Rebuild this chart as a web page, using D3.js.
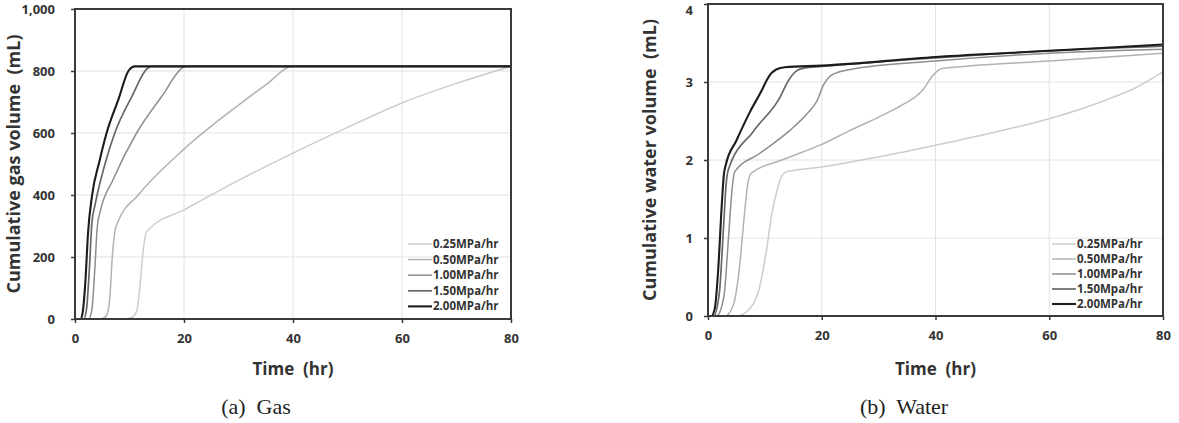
<!DOCTYPE html>
<html>
<head>
<meta charset="utf-8">
<script src="https://cdn.jsdelivr.net/npm/d3@7"></script>
<style>
  body { margin: 0; background: #fff; }
  svg { display: block; }
  text { white-space: pre; }
  .tick text { font-family: "Open Sans", sans-serif; font-weight: 700; font-size: 13px; fill: #333; }
  .xtitle { font-family: "Open Sans", sans-serif; font-weight: 700; font-size: 17px; fill: #333; }
  .ytitle { font-family: "Open Sans", sans-serif; font-weight: 700; font-size: 18px; fill: #333; }
  .legend text { font-family: "Open Sans", sans-serif; font-weight: 700; font-size: 11.5px; fill: #333; }
  .caption { font-family: "Liberation Serif", "Times New Roman", serif; font-size: 22px; fill: #222; }
</style>
</head>
<body>
<script>
// Canvas size
var width = 1179,
    height = 423;

// Series labels (as printed in the legend)
var seriesNames = ["0.25MPa/hr", "0.50MPa/hr", "1.00MPa/hr", "1.50Mpa/hr", "2.00MPa/hr"];
var seriesColors = ["#cdcdcd", "#b2b2b2", "#8e8e8e", "#676767", "#1c1c1c"];
var seriesWidths = [1.5, 1.5, 1.5, 1.7, 2.1];

// Ticks
var timeTicks = [0, 20, 40, 60, 80];
var gasTicks = [0, 200, 400, 600, 800, 1000];
var waterTicks = [0, 1, 2, 3, 4];

// Gas (mL) vs time (hr)
var gas025 = [[0,0],[9,0],[10.5,6],[11.3,25],[11.9,100],[12.5,220],[13.1,280],[13.6,290],[20,352],[30,447],[40,535],[50,618],[60,697],[70,760],[80,815]];
var gas050 = [[0,0],[4.8,0],[5.8,12],[6.4,70],[6.8,190],[7.3,280],[7.8,310],[11.6,400],[20,548],[30,690],[35,755],[40,815],[80,815]];
var gas100 = [[0,0],[2.5,0],[3.1,30],[3.6,150],[4.1,300],[4.6,345],[7,450],[11.3,600],[16,720],[19.9,812],[20.5,815],[80,815]];
var gas150 = [[0,0],[1.6,0],[2.1,30],[2.6,150],[3.1,310],[3.7,370],[5.5,500],[7.3,600],[10.5,720],[13.1,805],[14,815],[80,815]];
var gas200 = [[0,0],[1.0,0],[1.4,20],[1.9,120],[2.4,280],[3.1,395],[4.5,510],[5.8,600],[8,710],[9.8,800],[11,815],[80,815]];

// Water (mL) vs time (hr)
var water025 = [[0,0],[5,0],[7.4,0.1],[9,0.35],[10.3,0.85],[11.2,1.3],[12.1,1.6],[13,1.8],[13.8,1.85],[20,1.91],[30,2.04],[40,2.19],[50,2.35],[60,2.53],[70,2.77],[75,2.92],[80,3.13]];
var water050 = [[0,0],[3,0],[4.5,0.15],[5.5,0.6],[6.4,1.3],[7,1.7],[7.6,1.83],[13,2.0],[20,2.2],[25,2.38],[30,2.55],[34,2.7],[37.8,2.9],[39.5,3.08],[41,3.17],[45,3.2],[60,3.27],[80,3.37]];
var water100 = [[0,0],[1.5,0],[2.8,0.25],[3.6,1.0],[4.2,1.6],[4.7,1.85],[9,2.08],[14.4,2.38],[17.5,2.6],[19.1,2.75],[20.3,2.96],[22,3.1],[25,3.16],[40,3.27],[60,3.37],[80,3.42]];
var water150 = [[0,0],[1,0],[2,0.3],[2.7,1.1],[3.2,1.7],[3.6,1.88],[8,2.37],[12.7,2.81],[14,3.0],[15.5,3.14],[17,3.18],[20,3.2],[40,3.31],[60,3.4],[80,3.46]];
var water200 = [[0,0],[0.6,0],[1.2,0.1],[1.8,0.6],[2.4,1.4],[2.8,1.82],[3.1,1.93],[5,2.25],[7.4,2.62],[9.5,2.9],[10.3,3.02],[11,3.1],[12,3.16],[13.5,3.19],[20,3.21],[40,3.32],[60,3.4],[80,3.48]];

var svg = d3.select("body").append("svg")
  .attr("width", width)
  .attr("height", height);

function drawPanel(opt) {
  var x = d3.scaleLinear().domain([0, 80]).range([opt.left, opt.right]);
  var y = d3.scaleLinear().domain([0, opt.yMax]).range([opt.bottom, opt.top]);
  var g = svg.append("g");

  // Gridlines
  g.selectAll(".hgrid").data(opt.yTicks.slice(1, -1)).enter().append("line")
    .attr("x1", opt.left).attr("x2", opt.right)
    .attr("y1", function(d){ return y(d); }).attr("y2", function(d){ return y(d); })
    .attr("stroke", "#e2e2e2").attr("stroke-width", 1);
  g.selectAll(".vgrid").data(timeTicks.slice(1, -1)).enter().append("line")
    .attr("y1", opt.top).attr("y2", opt.bottom)
    .attr("x1", function(d){ return x(d); }).attr("x2", function(d){ return x(d); })
    .attr("stroke", "#e2e2e2").attr("stroke-width", 1);

  // Lines
  var line = d3.line()
    .x(function(d){ return x(d[0]); })
    .y(function(d){ return y(d[1]); })
    .curve(d3.curveMonotoneX);
  opt.series.forEach(function(s, i) {
    g.append("path")
      .attr("d", line(s))
      .attr("fill", "none")
      .attr("stroke", seriesColors[i])
      .attr("stroke-width", seriesWidths[i])
      .attr("stroke-linejoin", "round");
  });

  // Frame
  g.append("rect")
    .attr("x", opt.left).attr("y", opt.top)
    .attr("width", opt.right - opt.left).attr("height", opt.bottom - opt.top)
    .attr("fill", "none").attr("stroke", "#3a3a3a").attr("stroke-width", 2);

  // Axes
  var xAxis = d3.axisBottom(x).tickValues(timeTicks).tickSize(4).tickPadding(11);
  var yAxis = d3.axisLeft(y).tickValues(opt.yTicks).tickSize(4).tickPadding(opt.yPad)
    .tickFormat(opt.yFormat);
  var gx = g.append("g").attr("transform", "translate(0," + opt.bottom + ")").call(xAxis);
  var gy = g.append("g").attr("transform", "translate(" + opt.left + ",0)").call(yAxis);
  [gx, gy].forEach(function(a) {
    a.select(".domain").remove();
    a.selectAll(".tick line").attr("stroke", "#3a3a3a").attr("stroke-width", 1.5);
  });
  // keep the top label inside the canvas
  gy.selectAll(".tick text").filter(function(d){ return d === opt.yMax; })
    .attr("dy", opt.topDy);

  // Axis titles
  g.append("text").attr("class", "xtitle")
    .attr("x", (opt.left + opt.right) / 2).attr("y", 375)
    .attr("text-anchor", "middle").text("Time  (hr)");
  g.append("text").attr("class", "ytitle")
    .attr("transform", "translate(" + opt.yTitleX + "," + ((opt.top + opt.bottom) / 2) + ") rotate(-90)")
    .attr("text-anchor", "middle").text(opt.yTitle);

  // Caption
  g.append("text").attr("class", "caption")
    .attr("x", opt.capX).attr("y", 414)
    .attr("text-anchor", "middle").text(opt.caption);

  // Legend
  var leg = g.append("g").attr("class", "legend");
  seriesNames.forEach(function(name, i) {
    var ly = opt.legY + i * opt.legStep;
    leg.append("line")
      .attr("x1", opt.legX).attr("x2", opt.legX + 24)
      .attr("y1", ly).attr("y2", ly)
      .attr("stroke", seriesColors[i]).attr("stroke-width", seriesWidths[i]);
    leg.append("text")
      .attr("x", opt.legX + 25).attr("y", ly).attr("dy", "0.35em")
      .text(name);
  });
}

drawPanel({
  left: 75, right: 511, top: 9, bottom: 319,
  yMax: 1000, yTicks: gasTicks, yFormat: d3.format(","), yPad: 16, topDy: "0.32em",
  series: [gas025, gas050, gas100, gas150, gas200],
  yTitle: "Cumulative gas volume  (mL)", yTitleX: 20,
  caption: "(a)  Gas", capX: 256,
  legX: 408, legY: 244, legStep: 15.6
});

drawPanel({
  left: 708, right: 1163, top: 4, bottom: 316,
  yMax: 4, yTicks: waterTicks, yFormat: d3.format("d"), yPad: 11, topDy: "0.8em",
  series: [water025, water050, water100, water150, water200],
  yTitle: "Cumulative water volume  (mL)", yTitleX: 656,
  caption: "(b)  Water", capX: 904,
  legX: 1052, legY: 244, legStep: 15
});
</script>
</body>
</html>
